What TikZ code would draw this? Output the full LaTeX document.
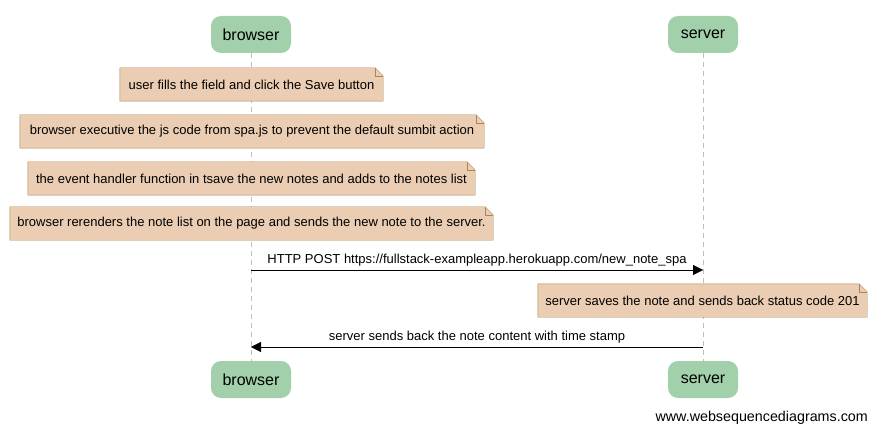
\documentclass[tikz,border=0pt]{standalone}
\usepackage{fontspec}
\setmainfont{Liberation Sans}
\usetikzlibrary{arrows.meta,backgrounds}

\definecolor{actorfill}{RGB}{162,208,170}
\definecolor{notefill}{RGB}{234,205,178}
\definecolor{notedraw}{RGB}{170,133,86}

\begin{document}
\begin{tikzpicture}[x=1pt, y=-1pt,
  actor/.style={fill=actorfill, rounded corners=10pt, inner sep=0pt,
    minimum height=37pt, font=\fontsize{16}{19}\selectfont},
  note/.style={inner sep=0pt, minimum height=33pt, font=\fontsize{13}{15}\selectfont},
  msg/.style={-{Triangle[length=10pt,width=10pt]}, thin},
  lbl/.style={font=\fontsize{13}{15}\selectfont, inner sep=0pt},
  lifeline/.style={gray!50, dashed, dash pattern=on 5pt off 4pt}]
\useasboundingbox (0,0) rectangle (876,433);

% Actors
\node[actor, minimum width=80pt] (b1) at (251,34.5) {browser};
\node[actor, minimum width=70pt] (s1) at (703,34.5) {server};
\node[actor, minimum width=80pt] (b2) at (251,379.5) {browser};
\node[actor, minimum width=70pt] (s2) at (703,379.5) {server};

% Notes
\node[note, minimum width=263pt] (n1) at (251.5,84.5) {user fills the field and click the Save button};
\node[note, minimum width=464pt] (n2) at (252,131.5) {browser executive the js code from spa.js to prevent the default sumbit action};
\node[note, minimum width=447pt] (n3) at (251.5,178.5) {the event handler function in tsave the new notes and adds to the notes list};
\node[note, minimum width=483pt] (n4) at (251.5,223.5) {browser rerenders the note list on the page and sends the new note to the server.};
\node[note, minimum width=329pt] (n5) at (702.5,300.5) {server saves the note and sends back status code 201};

\begin{scope}[on background layer]
% Lifelines
\draw[lifeline] (b1.south) -- (b2.north);
\draw[lifeline] (s1.south) -- (s2.north);
% Note shapes
\foreach \n in {n1,n2,n3,n4,n5}{
  \draw[notedraw, fill=notefill] (\n.south west) -- (\n.north west)
    -- ([xshift=-8pt]\n.north east) -- ([yshift=-8pt]\n.north east)
    -- (\n.south east) -- cycle;
  \draw[notedraw] ([xshift=-8pt]\n.north east) -- ([xshift=-8pt,yshift=-8pt]\n.north east)
    -- ([yshift=-8pt]\n.north east);
}
\end{scope}

% Messages
\coordinate (m1a) at (b1.south |- 0,270);
\coordinate (m1b) at (s1.south |- 0,270);
\coordinate (m2a) at (s1.south |- 0,347);
\coordinate (m2b) at (b1.south |- 0,347);
\draw[msg] (m1a) -- (m1b) node[lbl, midway, above=4pt] {HTTP POST https://fullstack-exampleapp.herokuapp.com/new\_note\_spa};
\draw[msg] (m2a) -- (m2b) node[lbl, midway, above=4pt] {server sends back the note content with time stamp};

\node[lbl, anchor=east, font=\fontsize{14.3}{16}\selectfont] (site) at (868,418) {www.websequencediagrams.com};
\end{tikzpicture}
\end{document}
